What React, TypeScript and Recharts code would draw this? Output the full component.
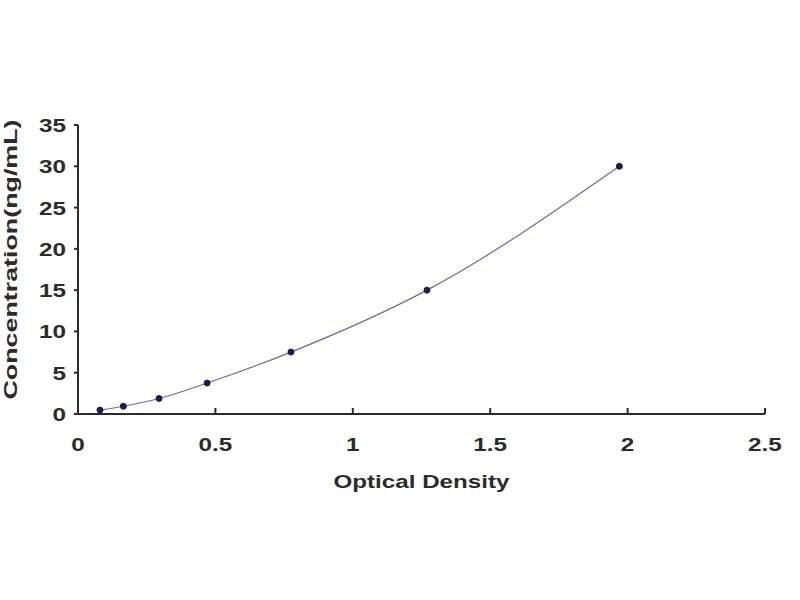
import { LineChart, Line, XAxis, YAxis } from 'recharts'

// standard curve: OD vs concentration
const opticalDensity = [0.08, 0.165, 0.295, 0.47, 0.775, 1.27, 1.97]
const concentration = [0.47, 0.94, 1.88, 3.75, 7.5, 15, 30]
const xTicks = [0, 0.5, 1, 1.5, 2, 2.5]
const yTicks = [0, 5, 10, 15, 20, 25, 30, 35]

const data = opticalDensity.map((od, i) => ({ od, conc: concentration[i] }))

const FONT = '"Liberation Sans", Arial, sans-serif'
const INK = '#2b2b2b'

function XTick({ x, y, payload }: any) {
  return (
    <text transform={`translate(${x},${y + 37}) scale(1.35,1)`} textAnchor="middle"
      fontFamily={FONT} fontWeight={700} fontSize={18} fill={INK}>
      {payload.value}
    </text>
  )
}

function YTick({ x, y, payload }: any) {
  return (
    <text transform={`translate(${x},${y + 7}) scale(1.35,1)`} textAnchor="end"
      fontFamily={FONT} fontWeight={700} fontSize={18} fill={INK}>
      {payload.value}
    </text>
  )
}

function YLabel({ viewBox }: any) {
  const cx = 11
  const cy = viewBox.y + viewBox.height / 2 - 10
  return (
    <text x={cx} y={cy} transform={`rotate(-90, ${cx}, ${cy})`} textAnchor="middle"
      dominantBaseline="central" fontFamily={FONT} fontWeight={700} fontSize={18}
      textLength={280} lengthAdjust="spacingAndGlyphs" fill={INK}>
      Concentration(ng/mL)
    </text>
  )
}

function XLabel({ viewBox }: any) {
  const cx = viewBox.x + viewBox.width / 2
  return (
    <text x={cx} y={488} textAnchor="middle" fontFamily={FONT} fontWeight={700}
      fontSize={19} textLength={176} lengthAdjust="spacingAndGlyphs" fill={INK}>
      Optical Density
    </text>
  )
}

export default function App() {
  return (
    <div style={{ position: 'absolute', left: 0, top: 0, width: 800, height: 600, background: '#fff' }}>
      <LineChart width={800} height={600} data={data}
        margin={{ top: 125, right: 35, bottom: 146, left: 0 }}>
        <XAxis
          type="number"
          dataKey="od"
          domain={[0, 2.5]}
          ticks={xTicks}
          interval={0}
          height={40}
          stroke={INK}
          strokeWidth={2}
          tickSize={-6}
          tickMargin={6}
          tick={<XTick />}
          label={<XLabel />}
        />
        <YAxis
          type="number"
          domain={[0, 35]}
          ticks={yTicks}
          interval={0}
          width={78}
          stroke={INK}
          strokeWidth={2}
          tickSize={4}
          tickMargin={8}
          tick={<YTick />}
          label={<YLabel />}
        />
        <Line
          type="monotone"
          dataKey="conc"
          stroke="#6b6bab"
          strokeWidth={1.2}
          dot={{ r: 3, fill: '#1b1b4f', stroke: '#1b1b4f', strokeWidth: 1 }}
          isAnimationActive={false}
        />
      </LineChart>
    </div>
  )
}
